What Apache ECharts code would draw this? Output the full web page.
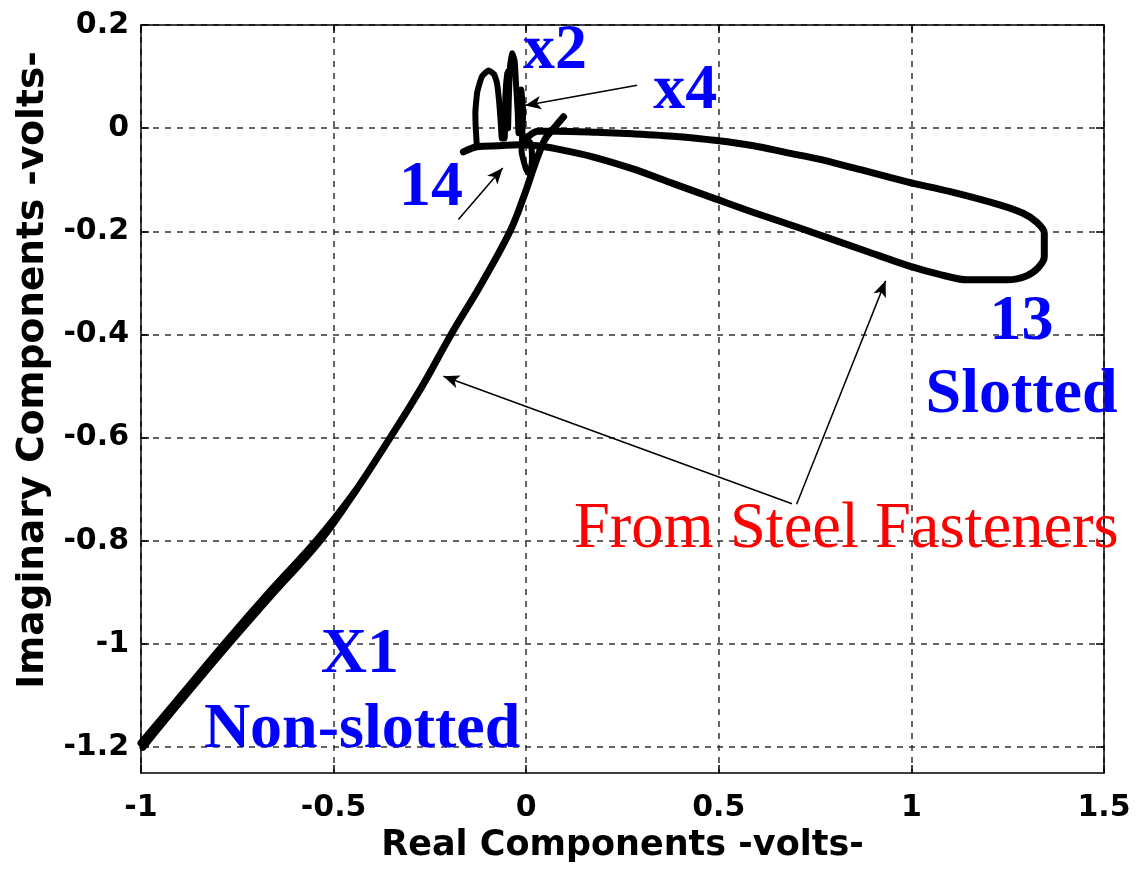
<!DOCTYPE html>
<html><head><meta charset="utf-8">
<script src="https://cdn.jsdelivr.net/npm/echarts@6/dist/echarts.min.js"></script>
<style>html,body{margin:0;padding:0;background:#fff}#c{width:1140px;height:873px}</style>
</head><body><div id="c"></div>
<script>
// ---- axis ranges / ticks ----
const xRange = [-1, 1.5];
const yRange = [-1.25, 0.2];
const xTicks = [-1, -0.5, 0, 0.5, 1, 1.5];
const yTicks = [-1.2, -1, -0.8, -0.6, -0.4, -0.2, 0, 0.2];
const xTitle = 'Real Components -volts-';
const yTitle = 'Imaginary Components -volts-';

// ---- trace [real, imaginary] ----
const approachPath = [[-0.995,-1.2],[-0.885,-1.1],[-0.772,-1.0],[-0.655,-0.9],[-0.535,-0.8],[-0.44,-0.7],[-0.353,-0.6],[-0.27,-0.5],[-0.195,-0.4],[-0.115,-0.3],[-0.042,-0.2],[-0.005,-0.13],[0.018,-0.08],[0.035,-0.045],[0.05,-0.02],[0.072,0.0],[0.097,0.022]];
const approachRepeat = [[-1.0,-1.192],[-0.893,-1.097],[-0.782,-0.998],[-0.664,-0.897],[-0.542,-0.797],[-0.44,-0.7]];
const loopPath = [[0.0,-0.02],[0.03,-0.006],[0.079,-0.006],[0.18,-0.008],[0.277,-0.011],[0.39,-0.016],[0.495,-0.024],[0.59,-0.034],[0.673,-0.047],[0.76,-0.06],[0.85,-0.077],[0.989,-0.104],[1.101,-0.123],[1.231,-0.149],[1.29,-0.165],[1.325,-0.182],[1.345,-0.203],[1.345,-0.249],[1.33,-0.27],[1.30,-0.286],[1.249,-0.294],[1.145,-0.294],[1.07,-0.283],[1.002,-0.269],[0.885,-0.239],[0.712,-0.194],[0.6,-0.166],[0.495,-0.138],[0.38,-0.107],[0.277,-0.079],[0.17,-0.055],[0.079,-0.040],[0.03,-0.034],[-0.02,-0.032],[-0.07,-0.034],[-0.128,-0.036],[-0.163,-0.046]];
const tanglePath = [[-0.128,-0.036],[-0.131,0.0],[-0.132,0.03],[-0.127,0.07],[-0.115,0.1],[-0.098,0.112],[-0.084,0.105],[-0.076,0.088],[-0.07,0.05],[-0.066,0.01],[-0.063,-0.02],[-0.056,-0.02],[-0.054,0.06],[-0.05,0.11],[-0.047,0.06],[-0.047,0.0],[-0.045,0.06],[-0.042,0.12],[-0.036,0.145],[-0.03,0.13],[-0.026,0.08],[-0.022,0.03],[-0.02,-0.01],[-0.016,0.04],[-0.013,0.075],[-0.008,0.03],[-0.012,-0.045],[0.0,-0.08],[0.01,-0.09],[0.015,-0.06],[0.012,-0.03],[0.0,-0.02]];

// ---- annotations (data coordinates) ----
const blueLabels = ['x2', 'x4', '14', '13', 'Slotted', 'X1', 'Non-slotted'];
const blueLabelPos = [[0.075,0.149],[0.413,0.071],[-0.247,-0.116],[1.286,-0.377],[1.286,-0.518],[-0.432,-1.022],[-0.426,-1.167]];
const redLabels = ['From Steel Fasteners'];
const redLabelPos = [[0.831,-0.779]];
const arrowFrom = [[0.288,0.083],[-0.176,-0.177],[0.69,-0.728],[0.702,-0.729]];
const arrowTo = [[-0.003,0.044],[-0.061,-0.077],[-0.215,-0.481],[0.933,-0.296]];
const arrowBend = [0, 0, 0, -0.08];

const fmt = v => String(+(+v).toFixed(2));
const tickFont = {fontFamily: 'DejaVu Sans', fontWeight: 'bold', fontSize: 30, color: '#000'};
const axisLine = {show: true, onZero: false, lineStyle: {color: '#000', width: 1.5}};
const tick = {show: true, inside: true, length: 8, lineStyle: {color: '#000', width: 1.5}};
const split = {show: true, lineStyle: {color: '#333', width: 1.5, type: [6, 6]}};

const chart = echarts.init(document.getElementById('c'), null, {renderer: 'canvas'});
const traceStyle = w => ({color: '#000', width: w, join: 'round', cap: 'round', opacity: 1});

chart.setOption({
  backgroundColor: '#fff',
  animation: false,
  grid: {left: 141, top: 25, right: 36, bottom: 100, containLabel: false, outerBoundsMode: 'none'},
  xAxis: [
    {type: 'value', min: xRange[0], max: xRange[1], interval: 0.5, position: 'bottom',
     axisLine, axisTick: tick, splitLine: split,
     axisLabel: Object.assign({margin: 20, formatter: fmt}, tickFont),
     name: xTitle, nameLocation: 'middle', nameGap: 55,
     nameTextStyle: {fontFamily: 'DejaVu Sans', fontWeight: 'bold', fontSize: 35, color: '#000'}},
    {type: 'value', min: xRange[0], max: xRange[1], interval: 0.5, position: 'top',
     axisLine, axisTick: tick, splitLine: {show: false}, axisLabel: {show: false}}
  ],
  yAxis: [
    {type: 'value', min: yRange[0], max: yRange[1], position: 'left',
     axisLine, axisTick: Object.assign({customValues: yTicks}, tick), splitLine: split,
     axisLabel: Object.assign({customValues: yTicks, margin: 12, formatter: fmt}, tickFont),
     name: yTitle, nameLocation: 'middle', nameGap: 86, nameRotate: 90,
     nameTextStyle: {fontFamily: 'DejaVu Sans', fontWeight: 'bold', fontSize: 37.5, color: '#000', padding: [0, 0, 0, 58]}},
    {type: 'value', min: yRange[0], max: yRange[1], position: 'right',
     axisLine, axisTick: Object.assign({customValues: yTicks}, tick), splitLine: {show: false}, axisLabel: {show: false}}
  ],
  series: [
    {type: 'line', data: approachRepeat, showSymbol: false, smooth: 0.4, lineStyle: traceStyle(7), silent: true, z: 3},
    {type: 'line', data: approachPath, showSymbol: false, smooth: 0.4, lineStyle: traceStyle(7), silent: true, z: 3},
    {type: 'line', data: loopPath, showSymbol: false, smooth: 0.3, lineStyle: traceStyle(7), silent: true, z: 3},
    {type: 'line', data: tanglePath, showSymbol: false, smooth: 0.15, lineStyle: traceStyle(6), silent: true, z: 3},
    {type: 'line', data: [], silent: true, z: 4,
     markLine: {silent: true, symbol: ['none', 'arrow'], symbolSize: [10, 16], animation: false,
       label: {show: false},
       lineStyle: {color: '#000', width: 1.5, type: 'solid', opacity: 1},
       data: arrowFrom.map((f, i) => [{coord: f, lineStyle: {curveness: arrowBend[i]}}, {coord: arrowTo[i]}])}},
    {type: 'scatter', symbolSize: 0, silent: true, z: 5, itemStyle: {opacity: 1},
     data: blueLabels.map((t, i) => ({name: t, value: blueLabelPos[i]})),
     label: {show: true, position: 'inside', formatter: '{b}', opacity: 1, fontFamily: 'Liberation Serif', fontWeight: 'bold', fontSize: 64, color: '#0000ff'}},
    {type: 'scatter', symbolSize: 0, silent: true, z: 5, itemStyle: {opacity: 1},
     data: redLabels.map((t, i) => ({name: t, value: redLabelPos[i]})),
     label: {show: true, position: 'inside', formatter: '{b}', opacity: 1, fontFamily: 'Liberation Serif', fontWeight: 'normal', fontSize: 64.5, color: '#ff0000'}}
  ]
});
</script></body></html>
